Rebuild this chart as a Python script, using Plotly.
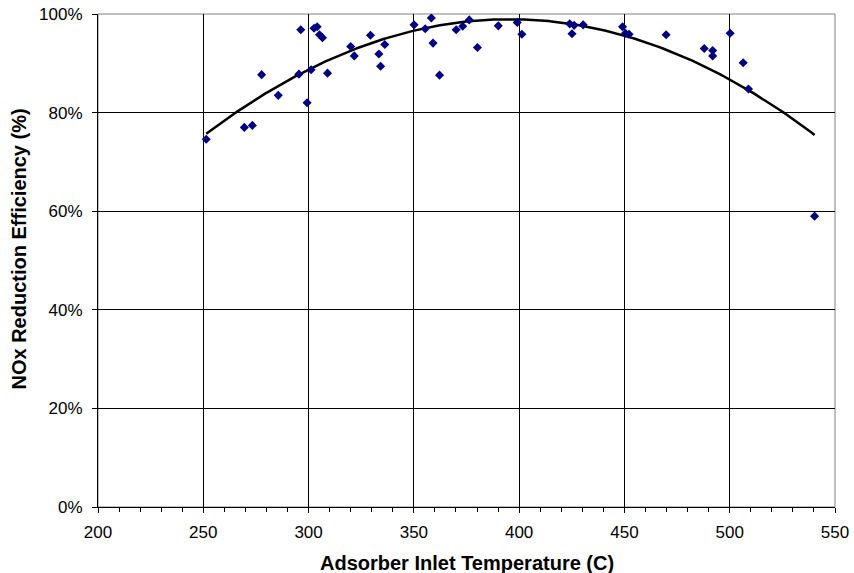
import numpy as np
import plotly.graph_objects as go

temp_c = [251.4, 269.5, 273.3, 277.7, 285.6, 296.3, 295.4, 299.3, 301.2, 302.6,
          304.1, 305.2, 306.6, 309.0, 320.0, 321.7, 329.4, 333.4, 336.2, 334.2,
          350.1, 355.4, 358.3, 359.1, 362.2, 370.1, 373.2, 376.3, 380.2, 390.1,
          399.1, 401.3, 424.0, 425.1, 426.1, 430.4, 449.1, 450.5, 452.2, 469.8,
          487.9, 491.9, 491.9, 500.2, 506.4, 508.9, 540.3]
nox_eff = [74.6, 77.0, 77.4, 87.7, 83.5, 96.8, 87.8, 82.0, 88.7, 97.1,
           97.4, 95.8, 95.2, 88.0, 93.4, 91.5, 95.7, 91.9, 93.8, 89.4,
           97.8, 97.0, 99.2, 94.1, 87.6, 96.8, 97.5, 98.8, 93.2, 97.6,
           98.3, 95.9, 98.0, 96.0, 97.7, 97.8, 97.4, 96.1, 95.9, 95.8,
           93.0, 92.6, 91.5, 96.1, 90.1, 84.8, 59.0]

x_ticks = [200, 250, 300, 350, 400, 450, 500, 550]
y_ticks = [0, 0.2, 0.4, 0.6, 0.8, 1.0]
x_title = "Adsorber Inlet Temperature (C)"
y_title = "NOx Reduction Efficiency (%)"

xs = np.array(temp_c)
ys = np.array(nox_eff) / 100.0
coef = np.polyfit(xs, ys, 2)
xfit = np.linspace(xs.min(), xs.max(), 200)
yfit = np.polyval(coef, xfit)

W, H = 854, 573
L, R, T, B = 98, 19, 14, 66
pw, ph = W - L - R, H - T - B

def px_to_paper_x(px):
    return (px - L) / pw

def px_to_paper_y(py):
    return (H - B - py) / ph

fig = go.Figure()
fig.add_trace(go.Scatter(x=xfit, y=yfit, mode="lines",
                         line=dict(color="black", width=2.5), hoverinfo="skip"))
fig.add_trace(go.Scatter(x=xs, y=ys, mode="markers",
                         marker=dict(symbol="diamond", size=7, color="#000080")))

font = "Liberation Sans, Arial, sans-serif"
fig.update_layout(
    width=W, height=H,
    margin=dict(l=L, r=R, t=T, b=B),
    paper_bgcolor="white", plot_bgcolor="white",
    showlegend=False,
    font=dict(family=font, size=17, color="black"),
    xaxis=dict(range=[200, 550], tickvals=x_ticks, ticks="outside", ticklen=5,
               tickcolor="black", showgrid=True, gridcolor="black", gridwidth=1,
               showline=True, linecolor="black", linewidth=1, zeroline=False,
               automargin=False, ticklabelstandoff=5,
               minor=dict(dtick=10, ticks="outside", ticklen=4, tickcolor="black", showgrid=False),
               tickfont=dict(size=17)),
    yaxis=dict(range=[0, 1.0], tickvals=y_ticks, tickformat=".0%", ticks="outside", ticklen=5,
               tickcolor="black", showgrid=True, gridcolor="black", gridwidth=1,
               showline=True, linecolor="black", linewidth=1, zeroline=False,
               automargin=False, ticklabelstandoff=6,
               tickfont=dict(size=17)),
    shapes=[dict(type="rect", xref="paper", yref="paper", x0=0, y0=0, x1=1, y1=1,
                 line=dict(color="#808080", width=1), layer="below")],
    annotations=[
        dict(text="<b>" + x_title + "</b>", xref="paper", yref="paper",
             x=px_to_paper_x(467), y=px_to_paper_y(562.5), xanchor="center", yanchor="middle",
             showarrow=False, font=dict(size=20, family=font, color="black")),
        dict(text="<b>" + y_title + "</b>", xref="paper", yref="paper",
             x=px_to_paper_x(18.5), y=px_to_paper_y(249), xanchor="center", yanchor="middle",
             textangle=-90, showarrow=False, font=dict(size=20, family=font, color="black")),
    ],
)
fig.write_html("out.html", config={"displayModeBar": False},
               post_script="document.body.style.margin='0px';document.body.style.overflow='hidden';")
